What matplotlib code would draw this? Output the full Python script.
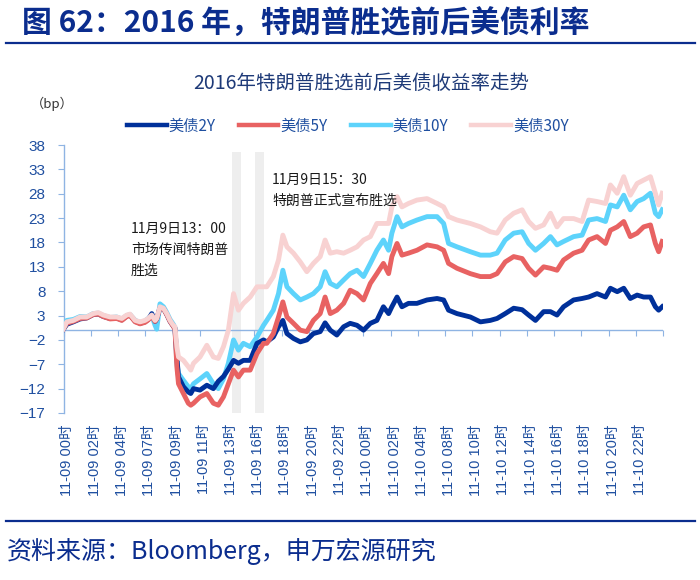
import matplotlib
matplotlib.use("Agg")
import matplotlib.pyplot as plt
import matplotlib.transforms as mtransforms
from matplotlib.lines import Line2D

plt.rcParams['font.family'] = ['Liberation Sans', 'Noto Sans CJK SC', 'DejaVu Sans']

# ---------------- data ----------------
tick_labels = ["11-09 00时", "11-09 02时", "11-09 04时", "11-09 07时", "11-09 09时",
               "11-09 11时", "11-09 13时", "11-09 16时", "11-09 18时", "11-09 20时",
               "11-09 22时", "11-10 00时", "11-10 02时", "11-10 04时", "11-10 08时",
               "11-10 10时", "11-10 12时", "11-10 14时", "11-10 16时", "11-10 18时",
               "11-10 20时", "11-10 22时"]
series_names = ["美债2Y", "美债5Y", "美债10Y", "美债30Y"]

# position along the category axis (tick units)
t = [0.00, 0.12, 0.36, 0.61, 0.85, 1.09, 1.28, 1.46, 1.71, 1.95, 2.14, 2.32, 2.44,
     2.63, 2.81, 2.99, 3.11, 3.24, 3.36, 3.42, 3.54, 3.67, 3.79, 3.91, 4.03, 4.09,
     4.16, 4.22, 4.40, 4.58, 4.67, 4.77, 5.01, 5.26, 5.50, 5.68, 5.87, 6.05, 6.24,
     6.42, 6.60, 6.85, 7.10, 7.34, 7.46, 7.70, 7.89, 8.05, 8.20, 8.44, 8.69, 8.93,
     9.17, 9.42, 9.60, 9.79, 10.03, 10.28, 10.52, 10.77, 11.01, 11.26, 11.50, 11.74,
     11.93, 12.05, 12.24, 12.42, 12.66, 12.97, 13.34, 13.71, 13.95, 14.13, 14.44,
     14.93, 15.30, 15.66, 15.91, 16.21, 16.52, 16.83, 17.07, 17.32, 17.62, 17.87,
     18.11, 18.35, 18.72, 19.03, 19.27, 19.58, 19.89, 20.07, 20.32, 20.56, 20.80,
     21.05, 21.29, 21.54, 21.72, 21.84, 21.97]

y2 = [0.2, 1.2, 1.7, 2.3, 2.5, 3.2, 3.3, 2.8, 2.4, 2.5, 2.1, 2.9, 3.1,
      1.8, 1.4, 1.7, 2.2, 3.4, 1.8, 2.3, 4.6, 4.4, 3.2, 1.8, 0.8, 0.4,
      -5.5, -9.6, -11.6, -12.7, -13.0, -12.0, -12.3, -11.3, -12.0, -10.5, -9.5, -8.0, -6.2,
      -6.8, -6.2, -6.2, -2.7, -2.0, -2.4, -1.4, 0.7, 2.0, -0.7, -1.7, -2.4, -2.0,
      -0.7, -0.3, 1.5, 0.0, -1.0, 0.7, 1.4, 1.0, 0.0, 1.4, 2.0, 4.8,
      3.4, 4.8, 6.8, 4.8, 5.5, 5.5, 6.2, 6.5, 6.2, 4.1, 3.4,
      2.7, 1.7, 2.0, 2.4, 3.4, 4.5, 4.2, 3.1, 2.0, 3.8, 3.8,
      3.1, 4.8, 6.2, 6.5, 6.8, 7.5, 6.8, 8.6, 7.9, 8.6, 6.5,
      7.2, 6.8, 6.8, 4.8, 4.1, 4.8]

y5 = [0.3, 1.4, 1.8, 2.4, 2.5, 3.2, 3.3, 2.8, 2.3, 2.4, 2.0, 2.8, 3.0,
      1.7, 1.3, 1.6, 2.1, 2.8, 1.8, 2.3, 4.6, 4.4, 3.2, 1.8, 0.8, 0.2,
      -7.5, -11.0, -13.0, -15.0, -15.4, -15.0, -13.7, -13.0, -15.0, -15.4, -13.7, -11.0, -8.2,
      -9.6, -8.2, -8.2, -4.8, -2.7, -2.7, -0.7, 2.7, 5.8, 2.7, 1.4, 0.0, -0.3,
      2.0, 3.4, 6.8, 3.4, 4.1, 5.5, 8.2, 7.5, 6.2, 9.6, 11.6, 13.7,
      11.6, 15.1, 17.8, 15.4, 15.8, 16.4, 17.5, 17.1, 16.4, 13.7, 12.7,
      11.6, 11.0, 11.0, 11.6, 14.0, 15.1, 14.7, 12.7, 11.3, 13.0, 12.7,
      12.3, 14.4, 15.8, 16.4, 18.5, 19.2, 17.8, 20.5, 21.2, 22.3, 19.2,
      19.9, 21.2, 21.6, 17.8, 16.1, 18.2]

y10 = [0.5, 2.0, 2.2, 2.8, 2.7, 3.4, 3.5, 3.0, 2.6, 2.7, 2.3, 3.0, 3.2,
       2.0, 1.6, 1.9, 2.4, 3.0, 1.0, 0.2, 5.4, 4.8, 3.6, 2.2, 1.2, 0.5,
       -6.8, -8.9, -10.3, -11.6, -12.0, -11.0, -10.0, -8.9, -11.0, -12.0, -10.0, -6.8, -2.0,
       -4.1, -2.7, -3.4, -1.4, 1.0, 2.0, 4.1, 7.5, 12.3, 8.9, 7.5, 6.2, 6.8,
       7.5, 8.9, 12.0, 9.6, 8.9, 10.3, 11.6, 12.3, 11.0, 13.7, 16.4, 18.5,
       16.4, 19.9, 23.3, 21.2, 21.9, 22.6, 23.3, 23.3, 21.9, 17.8, 17.1,
       16.1, 15.4, 15.4, 15.8, 18.5, 19.9, 20.2, 17.8, 16.4, 17.8, 19.2,
       17.5, 18.2, 19.2, 19.5, 22.6, 22.9, 22.3, 25.7, 25.3, 27.7, 24.7,
       26.4, 27.0, 28.1, 24.0, 23.3, 24.7]

y30 = [0.3, 1.7, 2.0, 2.7, 2.7, 3.4, 3.6, 3.1, 2.7, 2.7, 2.4, 3.1, 3.3,
       2.0, 1.7, 2.0, 2.4, 3.1, 2.0, 2.4, 4.8, 4.5, 3.4, 2.0, 1.0, 0.7,
       -3.4, -5.5, -6.2, -7.5, -8.2, -6.8, -5.5, -3.1, -5.5, -5.8, -3.4, 0.0, 7.5,
       4.1, 5.5, 6.8, 8.9, 8.9, 8.9, 11.0, 14.4, 19.5, 17.1, 15.8, 14.0, 12.0,
       13.7, 15.1, 18.5, 15.8, 16.1, 15.8, 16.4, 17.1, 18.5, 19.2, 21.9, 21.9,
       21.9, 25.3, 27.4, 25.3, 26.0, 26.7, 27.0, 26.0, 25.3, 23.3, 22.6,
       21.9, 21.2, 20.2, 19.9, 22.6, 24.0, 24.7, 22.3, 20.9, 21.6, 24.0,
       21.2, 22.9, 22.9, 22.3, 26.7, 26.4, 26.0, 29.8, 28.1, 31.5, 27.7,
       30.1, 30.8, 31.5, 28.1, 25.7, 28.1]

y_ticks = [-17, -12, -7, -2, 3, 8, 13, 18, 23, 28, 33, 38]
event_t = [6.36, 7.20]          # grey bands: 13:00 rumour, 15:30 announcement
band_top = 36.5

# ---------------- style ----------------
c2, c5, c10, c30 = "#00309a", "#e86262", "#5dd3fb", "#f8d2d2"
axis_c = "#8fb4e3"
tick_c = "#1f4fa0"
navy = "#0b2d8e"
cjk = ['Noto Sans CJK SC', 'DejaVu Sans']

fig = plt.figure(figsize=(7, 5.8), dpi=100)
ax = fig.add_axes([63.5 / 700, 1 - 413 / 580, (663 - 63.5) / 700, (413 - 145) / 580])

# grey event bands
for et in event_t:
    ax.bar(et, band_top - y_ticks[0], bottom=y_ticks[0], width=0.33,
           color="#eeeeee", zorder=1)

ax.axhline(0, color=axis_c, lw=1.0, zorder=2)

lw = 3.5
ax.plot(t, y10, color=c10, lw=lw, zorder=3, solid_joinstyle='round')
ax.plot(t, y2, color=c2, lw=lw, zorder=4, solid_joinstyle='round')
ax.plot(t, y5, color=c5, lw=lw, zorder=5, solid_joinstyle='round')
ax.plot(t, y30, color=c30, lw=lw, zorder=6, solid_joinstyle='round')

ax.set_xlim(0, 22)
ax.set_ylim(y_ticks[0], y_ticks[-1])
for s in ['top', 'right', 'bottom']:
    ax.spines[s].set_visible(False)
ax.spines['left'].set_color(axis_c)
ax.spines['left'].set_linewidth(1.0)

ax.set_yticks(y_ticks)
ax.tick_params(axis='y', direction='out', length=4, width=0.8, color=axis_c,
               labelcolor=tick_c, labelsize=11, pad=9)
for lab in ax.get_yticklabels():
    lab.set_fontfamily(['Liberation Sans', 'DejaVu Sans'])

ax.set_xticks(range(len(tick_labels)))
ax.set_xticklabels(tick_labels, rotation=90, fontsize=10.5, color=tick_c,
                   family=['Liberation Sans', 'Noto Sans CJK SC'])
ax.tick_params(axis='x', length=0, pad=8)
offset = mtransforms.ScaledTranslation(4 / 100, 0, fig.dpi_scale_trans)
for lab in ax.get_xticklabels():
    lab.set_transform(lab.get_transform() + offset)

# tick marks along zero line
sec = ax.secondary_xaxis(-y_ticks[0] / (y_ticks[-1] - y_ticks[0]))
sec.set_xticks(range(23))
sec.tick_params(axis='x', direction='out', length=4, width=0.8, color=axis_c,
                labelbottom=False, labeltop=False)
for s in sec.spines.values():
    s.set_visible(False)

# legend
handles = [Line2D([], [], color=c, lw=3.2) for c in (c2, c5, c10, c30)]
leg = ax.legend(handles, series_names, loc='center', bbox_to_anchor=(0.497, 1 - 126 / 580),
                bbox_transform=fig.transFigure, ncol=4, frameon=False,
                handlelength=2.6, handletextpad=0.15, columnspacing=1.5,
                prop={'family': cjk, 'size': 11})
for txt in leg.get_texts():
    txt.set_color(tick_c)

# texts
def fx(px):
    return px / 700

def fy(py):
    return 1 - py / 580

fig.text(fx(22), fy(24), "图 62：2016 年，特朗普胜选前后美债利率", fontsize=21.5,
         fontweight='bold', color=navy, family=cjk, va='center', ha='left')
fig.add_artist(Line2D([fx(6), fx(695)], [fy(43), fy(43)], color=navy, lw=1.6))
fig.text(fx(361), fy(83), "2016年特朗普胜选前后美债收益率走势", fontsize=14,
         color="#1e3a78", family=cjk, va='center', ha='center')
fig.text(fx(31), fy(104), "（bp）", fontsize=9.5, color="#333333", family=cjk,
         va='center', ha='left')
fig.text(fx(131), fy(250), "11月9日13：00\n市场传闻特朗普\n胜选", fontsize=10,
         color="#1a1a1a", family=cjk, va='center', ha='left', linespacing=1.65)
fig.text(fx(272), fy(190.5), "11月9日15：30\n特朗普正式宣布胜选", fontsize=10,
         color="#1a1a1a", family=cjk, va='center', ha='left', linespacing=1.65)
fig.add_artist(Line2D([fx(6), fx(695)], [fy(521), fy(521)], color=navy, lw=1.6))
fig.text(fx(7), fy(552), "资料来源：Bloomberg，申万宏源研究", fontsize=18,
         color=navy, family=cjk, va='center', ha='left')

fig.savefig("out.png", dpi=100)
